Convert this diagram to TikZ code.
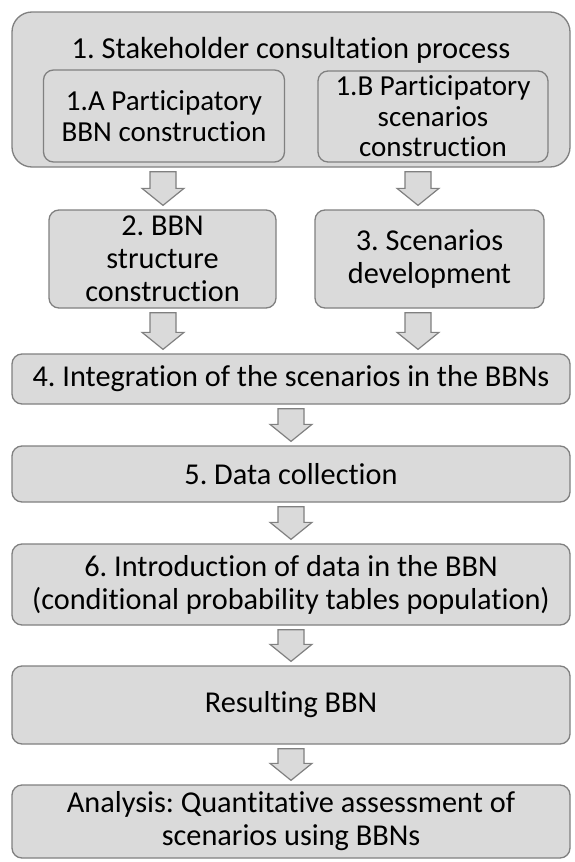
\documentclass[tikz,border=0pt]{standalone}
\usepackage{fontspec}
\setmainfont{Carlito}[Ligatures=NoCommon]
\usetikzlibrary{calc}
\frenchspacing

\definecolor{boxgray}{RGB}{218,218,218}
\definecolor{edgegray}{RGB}{128,128,128}

\tikzset{
  stepbox/.style={draw=edgegray, fill=boxgray, line width=1.3pt, rounded corners=10pt,
    align=center, inner sep=0pt, font=\fontsize{30.3}{33}\selectfont},
  subbox/.style={stepbox, font=\fontsize{29}{30.5}\selectfont},
  steptext/.style={inner sep=0pt, font=\fontsize{30.5}{33}\selectfont},
  arrowbox/.style={draw=edgegray, fill=boxgray, line width=1.2pt, line join=miter},
}

% block arrow: column, from node, to node
\newcommand{\blockarrow}[3]{%
  \path (#1 |- #2.south) ++(0,4) coordinate (arrowtop);
  \path (#1 |- #3.north) ++(0,-4) coordinate (arrowtip);
  \draw[arrowbox] ($(arrowtop)+(-13,0)$) -- ($(arrowtop)+(13,0)$) -- ($(arrowtip)+(13,-17)$)
    -- ($(arrowtip)+(21,-17)$) -- (arrowtip) -- ($(arrowtip)+(-21,-17)$) -- ($(arrowtip)+(-13,-17)$) -- cycle;
}

\begin{document}
\begin{tikzpicture}[x=1pt, y=-1pt]
\useasboundingbox[fill=white] (0,0) rectangle (574,862);

\coordinate (leftcol) at (163,0);
\coordinate (rightcol) at (418,0);
\coordinate (midcol) at (291,0);

%stakeholder consultation
\node[stepbox, minimum width=558pt, minimum height=155pt, rounded corners=20pt] (consult) at (291,89.5) {};
\node[steptext, anchor=base] (consulttitle) at (291,58) {1. Stakeholder consultation process};
\node[subbox, minimum width=241pt, minimum height=92pt] (partbbn) at (164,116) {1.A Participatory\\BBN construction};
\node[subbox, minimum width=230pt, minimum height=91pt] (partscen) at (433,116.5) {1.B Participatory\\scenarios\\construction};

\node[stepbox, minimum width=227pt, minimum height=98pt] (bbnstruct) at (162.5,259) {2. BBN\\structure\\construction};
\node[stepbox, minimum width=229pt, minimum height=98pt] (scendev) at (429.5,259) {3. Scenarios\\development};

\node[stepbox, minimum width=558pt, minimum height=50pt] (integ) at (291,379) {4. Integration of the scenarios in the BBNs};
\node[stepbox, minimum width=558pt, minimum height=56pt] (datacoll) at (291,474) {5. Data collection};
\node[stepbox, minimum width=558pt, minimum height=81pt] (intro) at (291,584.5) {6. Introduction of data in the BBN\\(conditional probability tables population)};
\node[stepbox, minimum width=558pt, minimum height=78pt] (result) at (291,705) {Resulting BBN};
\node[stepbox, minimum width=558pt, minimum height=73pt] (analysis) at (291,821.5) {Analysis: Quantitative assessment of\\scenarios using BBNs};

%arrows
\blockarrow{leftcol}{consult}{bbnstruct}
\blockarrow{rightcol}{consult}{scendev}
\blockarrow{leftcol}{bbnstruct}{integ}
\blockarrow{rightcol}{scendev}{integ}
\blockarrow{midcol}{integ}{datacoll}
\blockarrow{midcol}{datacoll}{intro}
\blockarrow{midcol}{intro}{result}
\blockarrow{midcol}{result}{analysis}

\end{tikzpicture}
\end{document}
